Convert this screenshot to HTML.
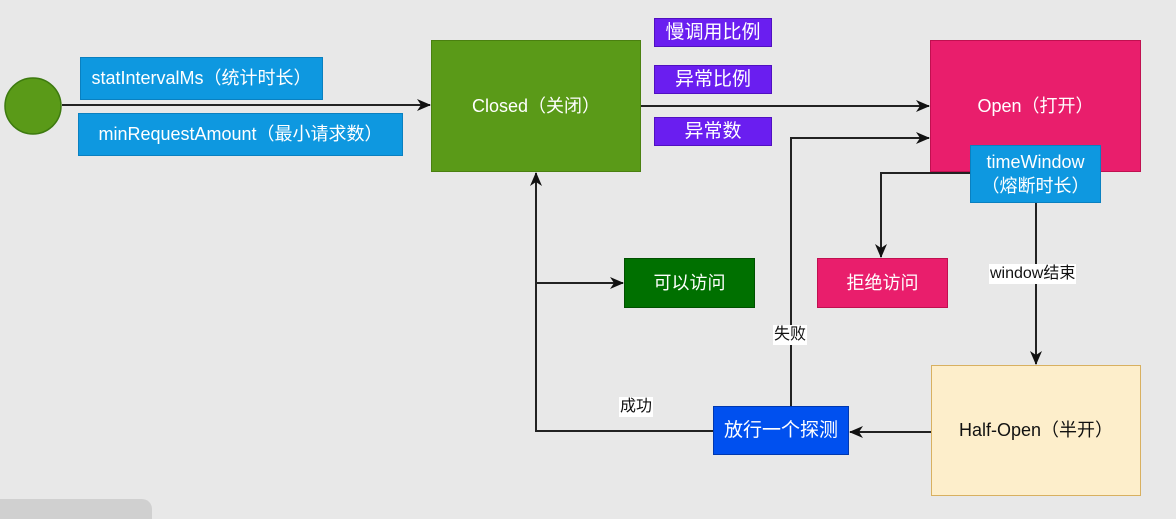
<!DOCTYPE html>
<html><head><meta charset="utf-8"><style>
body{margin:0;width:1176px;height:507px;background:#e8e8e8;overflow:hidden;font-family:"Liberation Sans","Noto Sans CJK SC",sans-serif;}
svg{position:absolute;left:0;top:0}
.b{position:absolute;display:flex;align-items:center;justify-content:center;box-sizing:border-box;color:#fff;font-size:18px;text-align:center;line-height:1.35}
.p{font-size:19px}
.l{position:absolute;background:#fff;font-size:16px;color:#111;line-height:20px;padding:0 1px}
</style></head><body>
<div style="position:absolute;left:0;top:499px;width:152px;height:20px;background:#d0d0d0;border-radius:0 10px 0 0"></div>
<svg width="1176" height="507">
<defs><marker id="a" markerWidth="14" markerHeight="14" refX="13" refY="7" orient="auto" markerUnits="userSpaceOnUse"><path d="M0,1 L14,7 L0,13 L4,7 z" fill="#111"/></marker></defs>
<g stroke="#222" stroke-width="2" fill="none">
<path d="M62 105 H430" marker-end="url(#a)"/>
<path d="M641 106 H929" marker-end="url(#a)"/>
<path d="M791 407 V138 H929" marker-end="url(#a)"/>
<path d="M970 173 H881 V257" marker-end="url(#a)"/>
<path d="M1036 203 V364" marker-end="url(#a)"/>
<path d="M931 432 H850" marker-end="url(#a)"/>
<path d="M713 431 H536 V173" marker-end="url(#a)"/>
<path d="M536 283 H623" marker-end="url(#a)"/>
</g>
<circle cx="33" cy="106" r="28" fill="#5a9a18" stroke="#3d7a0f" stroke-width="1.5"/>
</svg>
<div class="b" style="left:80px;top:57px;width:243px;height:43px;background:#0e98e0;border:1px solid #0a80c0">statIntervalMs（统计时长）</div>
<div class="b" style="left:78px;top:113px;width:325px;height:43px;background:#0e98e0;border:1px solid #0a80c0">minRequestAmount（最小请求数）</div>
<div class="b" style="left:431px;top:40px;width:210px;height:132px;background:#5a9a18;border:1px solid #4a8010">Closed（关闭）</div>
<div class="b p" style="left:654px;top:18px;width:118px;height:29px;background:#6a1ef0;border:1px solid #5010c0">慢调用比例</div>
<div class="b p" style="left:654px;top:65px;width:118px;height:29px;background:#6a1ef0;border:1px solid #5010c0">异常比例</div>
<div class="b p" style="left:654px;top:117px;width:118px;height:29px;background:#6a1ef0;border:1px solid #5010c0">异常数</div>
<div class="b" style="left:930px;top:40px;width:211px;height:132px;background:#e91e6c;border:1px solid #c01050">Open（打开）</div>
<div class="b" style="left:970px;top:145px;width:131px;height:58px;background:#0e98e0;border:1px solid #0a80c0">timeWindow<br>（熔断时长）</div>
<div class="b" style="left:624px;top:258px;width:131px;height:50px;background:#007000;border:1px solid #005000">可以访问</div>
<div class="b" style="left:817px;top:258px;width:131px;height:50px;background:#e91e6c;border:1px solid #c01050">拒绝访问</div>
<div class="b" style="left:931px;top:365px;width:210px;height:131px;background:#fdeecb;border:1px solid #d8b060;color:#111">Half-Open（半开）</div>
<div class="b p" style="left:713px;top:406px;width:136px;height:49px;background:#0050ef;border:1px solid #0038b0">放行一个探测</div>
<div class="l" style="left:989px;top:264px">window结束</div>
<div class="l" style="left:773px;top:325px">失败</div>
<div class="l" style="left:619px;top:397px">成功</div>
</body></html>
